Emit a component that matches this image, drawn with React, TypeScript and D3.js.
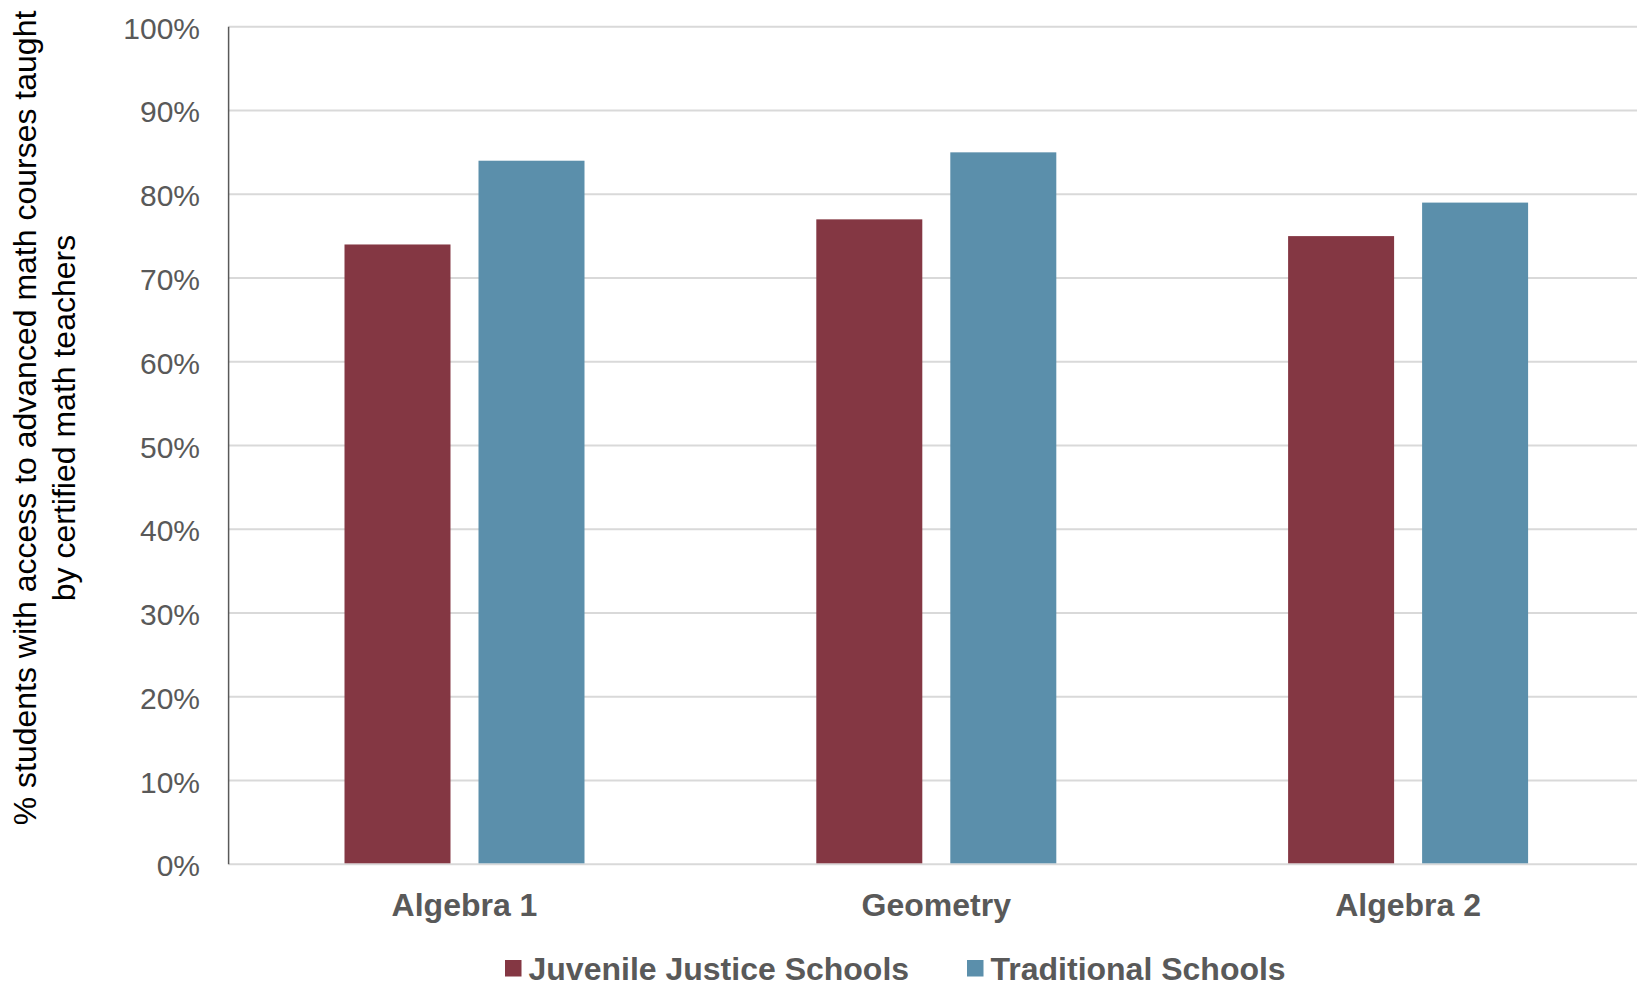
import React from "react";
import * as d3 from "d3";

const categories = ["Algebra 1", "Geometry", "Algebra 2"];
const seriesNames = ["Juvenile Justice Schools", "Traditional Schools"];
const juvenileValues = [0.74, 0.77, 0.75];
const traditionalValues = [0.84, 0.85, 0.79];
const yTicks = [0, 0.1, 0.2, 0.3, 0.4, 0.5, 0.6, 0.7, 0.8, 0.9, 1.0];
const colors = ["#843743", "#5B8FAB"];

const W = 1637;
const H = 987;
const FONT = "'Liberation Sans', Arial, sans-serif";

export default function App() {
  const left = 228.6;
  const bandW = 471.8;
  const top = 26.7;
  const bottom = 864.3;

  const x0 = d3.scaleBand<string>().domain(categories).range([left, left + bandW * 3]).padding(0);
  const bw = x0.bandwidth();
  const x1 = d3
    .scaleBand<string>()
    .domain(seriesNames)
    .range([bw / 2 - 120, bw / 2 + 120])
    .paddingInner(0.209)
    .paddingOuter(0);
  const y = d3.scaleLinear().domain([0, 1]).range([bottom, top]);
  const fmt = d3.format(".0%");
  const seriesValues = [juvenileValues, traditionalValues];

  return (
    <svg width={W} height={H} style={{ position: "absolute", left: 0, top: 0, background: "#fff" }}>
      <rect x={0} y={0} width={W} height={H} fill="#fff" />
      {/* gridlines */}
      {yTicks.map((t) => (
        <line key={t} x1={left} x2={W} y1={y(t)} y2={y(t)} stroke="#D9D9D9" strokeWidth={2} />
      ))}
      {/* y axis line */}
      <line x1={left} x2={left} y1={top} y2={bottom} stroke="#595959" strokeWidth={1.5} />
      {/* tick labels */}
      {yTicks.map((t) => (
        <text
          key={"l" + t}
          x={200}
          y={y(t) + 12}
          textAnchor="end"
          fontFamily={FONT}
          fontSize={30}
          fill="#595959"
        >
          {fmt(t)}
        </text>
      ))}
      {/* bars */}
      {categories.map((c, i) => (
        <g key={c} transform={`translate(${x0(c)},0)`}>
          {seriesNames.map((s, j) => (
            <rect
              key={s}
              x={x1(s)}
              y={y(seriesValues[j][i])}
              width={x1.bandwidth()}
              height={y(0) - y(seriesValues[j][i]) - 1}
              fill={colors[j]}
            />
          ))}
        </g>
      ))}
      {/* category labels */}
      {categories.map((c) => (
        <text
          key={"c" + c}
          x={(x0(c) as number) + bw / 2}
          y={916}
          textAnchor="middle"
          fontFamily={FONT}
          fontSize={32}
          fontWeight="bold"
          fill="#595959"
        >
          {c}
        </text>
      ))}
      {/* y axis title */}
      <text transform="translate(36,418) rotate(-90)" textAnchor="middle" fontFamily={FONT} fontSize={32} fill="#000">
        % students with access to advanced math courses taught
      </text>
      <text transform="translate(75,418) rotate(-90)" textAnchor="middle" fontFamily={FONT} fontSize={32} fill="#000">
        by certified math teachers
      </text>
      {/* legend */}
      {seriesNames.map((s, j) => {
        const lx = [505, 967][j];
        return (
          <g key={"lg" + s}>
            <rect x={lx} y={960} width={16.5} height={16.5} fill={colors[j]} />
            <text x={lx + 23.5} y={980} fontFamily={FONT} fontSize={32} fontWeight="bold" fill="#595959">
              {s}
            </text>
          </g>
        );
      })}
    </svg>
  );
}
